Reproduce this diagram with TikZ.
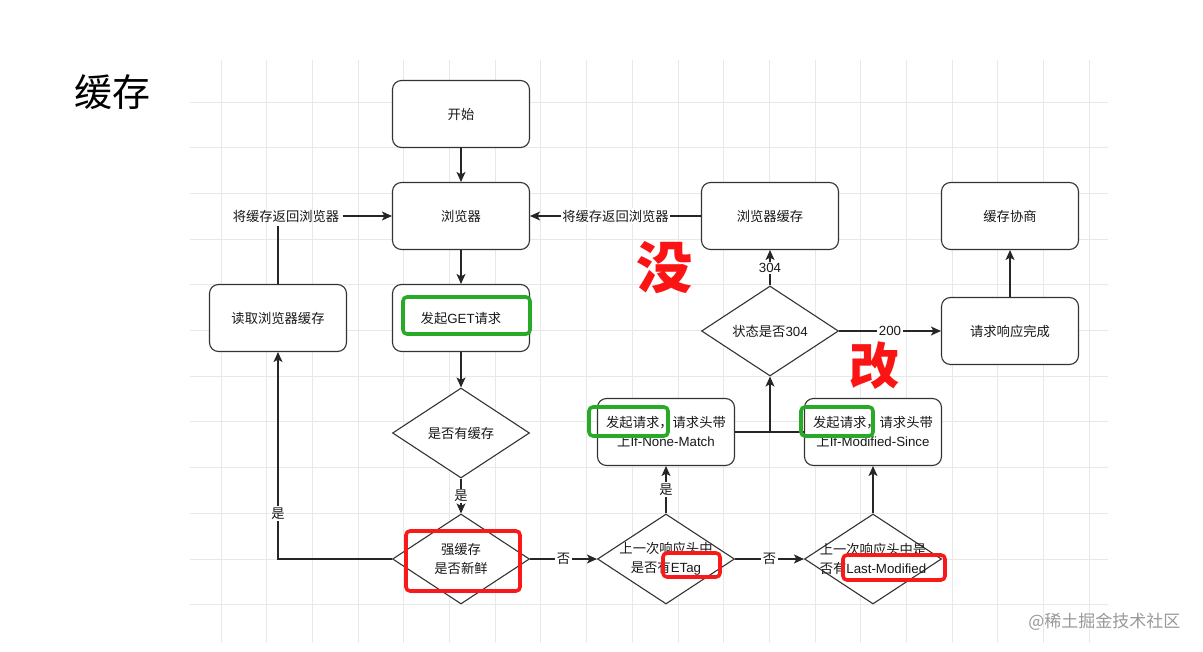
\documentclass[tikz,border=0pt]{standalone}
\usepackage{fontspec}
\setmainfont{Noto Sans CJK SC}
\newfontfamily\cjk{Noto Sans CJK SC}
\newfontfamily\lat{Liberation Sans}
\usetikzlibrary{arrows.meta,shapes.geometric}
\begin{document}
\begin{tikzpicture}[x=1pt,y=-1pt,
  lbl/.style={font=\cjk\fontsize{13.3}{19}\selectfont, text=black!90, align=center},
  box/.style={draw=black!80, line width=1.1pt, rounded corners=9pt, minimum width=137pt, minimum height=67pt, inner sep=0pt, fill=white, lbl},
  dia/.style={draw=black!80, line width=1.1pt, diamond, minimum width=137pt, minimum height=90pt, inner sep=0pt, fill=white},
  arr/.style={-{Stealth[length=10pt,width=9pt,inset=2.5pt]}, line width=1.1pt, draw=black!85},
  ln/.style={line width=1.1pt, draw=black!85},
  elbl/.style={lbl, fill=white, inner sep=1.5pt},
  gbox/.style={draw={rgb,255:red,40;green,170;blue,40}, line width=3.6pt, rounded corners=4pt},
  rbox/.style={draw={rgb,255:red,250;green,25;blue,25}, line width=3.6pt, rounded corners=4pt},
  hand/.style={text={rgb,255:red,250;green,20;blue,20}, font=\cjk\bfseries\fontsize{56}{56}\selectfont},
  gridline/.style={draw=black!9, line width=0.9pt}
]
\useasboundingbox (0,0) rectangle (1203,652);
\fill[white] (0,0) rectangle (1203,652);
% grid
\foreach \k in {0,...,19} { \draw[gridline] ({221+45.7*\k},60) -- ({221+45.7*\k},643); }
\foreach \k in {0,...,11} { \draw[gridline] (190,{102+45.7*\k}) -- (1108,{102+45.7*\k}); }

% title
\node[font=\cjk\fontsize{38}{40}\selectfont, text=black] (title) at (112,92) {缓存};

% boxes
\node[box] (start) at (461,114) {开始};
\node[box] (browser) at (461,216) {浏览器};
\node[box] (get) at (461,318) {发起{\lat GET}请求};
\node[box] (read) at (278,318) {读取浏览器缓存};
\node[box] (inm) at (666,432) {发起请求，请求头带\\上{\lat If-None-Match}};
\node[box] (ims) at (873,432) {发起请求，请求头带\\上{\lat If-Modified-Since}};
\node[box] (bcache) at (770,216) {浏览器缓存};
\node[box] (done) at (1010,331) {请求响应完成};
\node[box] (nego) at (1010,216) {缓存协商};

% diamonds
\node[dia, label={[lbl]center:是否有缓存}] (has) at (461,433) {};
\node[dia, label={[lbl]center:强缓存\\是否新鲜}] (fresh) at (461,559) {};
\node[dia, label={[lbl]center:上一次响应头中\\是否有{\lat ETag}}] (etag) at (666,559) {};
\node[dia, label={[lbl]center:上一次响应头中是\\否有{\lat Last-Modified}}] (lm) at (873,559) {};
\node[dia, label={[lbl]center:状态是否{\lat 304}}] (s304) at (770,331) {};

% connectors
\draw[arr] (start) -- (browser);
\draw[arr] (browser) -- (get);
\draw[arr] (get) -- (has);
\draw[arr] (has) -- node[elbl] {是} (fresh);
\draw[arr] (fresh) -- node[elbl] {否} (etag);
\draw[arr] (etag) -- node[elbl] {否} (lm);
\draw[arr] (etag) -- node[elbl] {是} (inm);
\draw[arr] (lm) -- (ims);
\draw[ln] (inm.east) -- (ims.west);
\coordinate (j) at (770,432);
\draw[arr] (j) -- (s304.south);
\draw[arr] (s304) -- node[elbl] {\lat 304} (bcache);
\draw[arr] (s304) -- node[elbl] {\lat 200} (done);
\draw[arr] (done) -- (nego);
\draw[arr] (bcache) -- node[elbl] {将缓存返回浏览器} (browser);
\draw[arr] (fresh.west) -| node[elbl, pos=0.61] {是} (read.south);
\node[lbl] (ret) at (286,216) {将缓存返回浏览器};
\draw[ln] (read.north) -- (read.north |- ret.south);
\draw[arr] (ret.east) -- (browser.west);

% annotations
\draw[gbox] (403,297) rectangle (530,334);
\draw[gbox] (589,407) rectangle (668,436);
\draw[gbox] (801,407) rectangle (873,436);
\draw[rbox] (406,531) rectangle (520,591);
\draw[rbox] (663,553) rectangle (720,577);
\draw[rbox] (843,555) rectangle (945,580);
\node[hand] (mei) at (664,268) {没};
\node[hand, font=\cjk\bfseries\fontsize{50}{50}\selectfont] (gai) at (874,366) {改};

% watermark
\node[font=\cjk\fontsize{17}{17}\selectfont, text=black!40, anchor=east] (wm) at (1184,622) {@稀土掘金技术社区};
\end{tikzpicture}
\end{document}
